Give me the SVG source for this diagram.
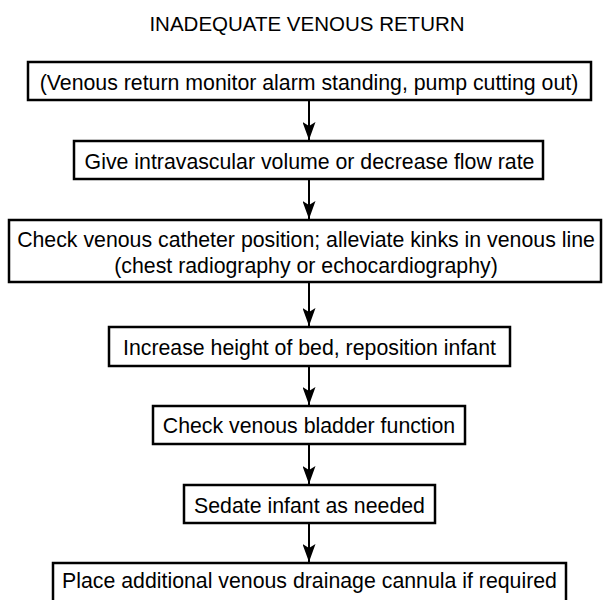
<svg xmlns="http://www.w3.org/2000/svg" width="603" height="600" viewBox="0 0 603 600">
<style>
.box{fill:#fff;stroke:#000;stroke-width:2.5}
.t{font-family:"Liberation Sans",Arial,sans-serif;font-size:21.3px;fill:#000;text-anchor:middle}
.title{font-family:"Liberation Sans",Arial,sans-serif;font-size:20.5px;fill:#000;text-anchor:middle}
.edge{stroke:#000;stroke-width:2;fill:none;marker-end:url(#ah)}
</style>
<defs>
<marker id="ah" markerWidth="18" markerHeight="13" refX="18" refY="6.5" orient="auto" markerUnits="userSpaceOnUse" viewBox="0 0 18 13">
<path d="M0,0 L18,6.5 L0,13 L4,6.5 Z" fill="#000"/>
</marker>
</defs>
<rect width="603" height="600" fill="#fff"/>
<text class="title" x="307" y="31">INADEQUATE VENOUS RETURN</text>
<g id="connectors">
<line class="edge" x1="309" y1="100" x2="309" y2="140"/>
<line class="edge" x1="309" y1="179" x2="309" y2="219"/>
<line class="edge" x1="309" y1="282" x2="309" y2="326"/>
<line class="edge" x1="309" y1="366" x2="309" y2="405"/>
<line class="edge" x1="309" y1="444" x2="309" y2="484"/>
<line class="edge" x1="309" y1="523" x2="309" y2="562"/>
</g>
<g id="n1"><rect class="box" x="28" y="62" width="563" height="38"/><text class="t" x="309" y="90">(Venous return monitor alarm standing, pump cutting out)</text></g>
<g id="n2"><rect class="box" x="74" y="141" width="469" height="38"/><text class="t" x="309.5" y="169">Give intravascular volume or decrease flow rate</text></g>
<g id="n3"><rect class="box" x="9" y="220" width="592" height="62"/><text class="t" x="306" y="247">Check venous catheter position; alleviate kinks in venous line</text><text class="t" x="306" y="273">(chest radiography or echocardiography)</text></g>
<g id="n4"><rect class="box" x="109" y="327" width="401" height="39"/><text class="t" x="309.5" y="355">Increase height of bed, reposition infant</text></g>
<g id="n5"><rect class="box" x="153" y="406" width="312" height="38"/><text class="t" x="309" y="433">Check venous bladder function</text></g>
<g id="n6"><rect class="box" x="184" y="485" width="251" height="38"/><text class="t" x="309.5" y="513">Sedate infant as needed</text></g>
<g id="n7"><rect class="box" x="53" y="563" width="513" height="40"/><text class="t" x="309.5" y="588">Place additional venous drainage cannula if required</text></g>
</svg>
